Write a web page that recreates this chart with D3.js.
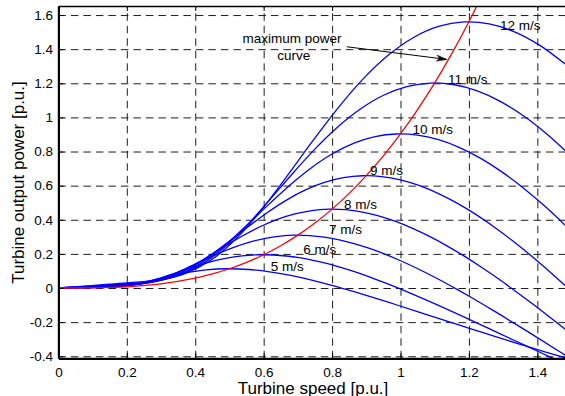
<!DOCTYPE html>
<html><head><meta charset="utf-8">
<script src="https://cdn.jsdelivr.net/npm/d3@7"></script>
<style>
html,body{margin:0;padding:0;background:#fff;overflow:hidden}
svg{display:block}
text{font-family:"Liberation Sans",Arial,Helvetica,sans-serif;fill:#000}
</style></head><body>
<svg id="chart" width="565" height="396"></svg>
<script>
// ---------- DATA (turbine speed [p.u.], turbine output power [p.u.]) ----------
const windSpeeds = [5, 6, 7, 8, 9, 10, 11, 12];
const speedLabels = ["5 m/s","6 m/s","7 m/s","8 m/s","9 m/s","10 m/s","11 m/s","12 m/s"];

const curve5 = [[0,0],[0.0617,0.0016],[0.1235,0.0035],[0.1852,0.0117],[0.2160,0.0208],[0.2469,0.0330],[0.2778,0.0471],[0.3086,0.0618],[0.3395,0.0759],[0.3704,0.0883],[0.4321,0.1061],[0.4938,0.1128],[0.5556,0.1086],[0.6173,0.0950],[0.6790,0.0735],[0.7407,0.0460],[0.8025,0.0139],[0.8642,-0.0215],[0.9259,-0.0591],[0.9877,-0.0981],[1.0494,-0.1379],[1.1111,-0.1780],[1.1728,-0.2180],[1.2346,-0.2576],[1.2963,-0.2966],[1.3580,-0.3349],[1.4198,-0.3724],[1.4815,-0.4089]];
const curve6 = [[0,0],[0.0741,0.0028],[0.1481,0.0061],[0.2222,0.0201],[0.2593,0.0359],[0.2963,0.0570],[0.3333,0.0814],[0.3704,0.1068],[0.4074,0.1311],[0.4444,0.1527],[0.4815,0.1703],[0.5185,0.1834],[0.5556,0.1916],[0.5926,0.1950],[0.6296,0.1936],[0.6667,0.1877],[0.7037,0.1778],[0.7407,0.1641],[0.7778,0.1470],[0.8148,0.1270],[0.8519,0.1043],[0.8889,0.0794],[0.9259,0.0525],[0.9630,0.0240],[1.0370,-0.0371],[1.1111,-0.1021],[1.1852,-0.1695],[1.2593,-0.2383],[1.3333,-0.3075],[1.4074,-0.3767],[1.4815,-0.4451]];
const curve7 = [[0,0],[0.0864,0.0044],[0.1728,0.0097],[0.2593,0.0320],[0.3025,0.0569],[0.3457,0.0904],[0.3889,0.1293],[0.4321,0.1696],[0.4753,0.2082],[0.5185,0.2424],[0.5617,0.2704],[0.6049,0.2912],[0.6481,0.3043],[0.6914,0.3096],[0.7346,0.3074],[0.7778,0.2981],[0.8210,0.2823],[0.8642,0.2605],[0.9074,0.2334],[0.9506,0.2016],[0.9938,0.1657],[1.0370,0.1261],[1.0802,0.0834],[1.1235,0.0381],[1.1667,-0.0095],[1.2099,-0.0589],[1.2531,-0.1099],[1.2963,-0.1621],[1.3827,-0.2691],[1.4691,-0.3783],[1.5556,-0.4883]];
const curve8 = [[0,0],[0.0988,0.0066],[0.1975,0.0145],[0.2469,0.0251],[0.2963,0.0477],[0.3457,0.0850],[0.3951,0.1350],[0.4444,0.1929],[0.4938,0.2532],[0.5432,0.3108],[0.5926,0.3619],[0.6420,0.4037],[0.6914,0.4347],[0.7407,0.4542],[0.7901,0.4621],[0.8395,0.4589],[0.8889,0.4450],[0.9383,0.4214],[0.9877,0.3889],[1.0370,0.3485],[1.0864,0.3010],[1.1358,0.2473],[1.1852,0.1882],[1.2346,0.1245],[1.2840,0.0569],[1.3333,-0.0142],[1.3827,-0.0879],[1.4321,-0.1640],[1.4815,-0.2419],[1.5802,-0.4017]];
const curve9 = [[0,0],[0.1111,0.0093],[0.2222,0.0206],[0.2778,0.0357],[0.3333,0.0679],[0.3889,0.1210],[0.4444,0.1922],[0.5000,0.2747],[0.5556,0.3605],[0.6111,0.4426],[0.6667,0.5152],[0.7222,0.5748],[0.7778,0.6189],[0.8333,0.6467],[0.8889,0.6580],[0.9444,0.6533],[1.0000,0.6336],[1.0556,0.6000],[1.1111,0.5537],[1.1667,0.4962],[1.2222,0.4285],[1.2778,0.3521],[1.3333,0.2680],[1.3889,0.1773],[1.4444,0.0809],[1.5000,-0.0202]];
const curve10 = [[0,0],[0.1235,0.0128],[0.2469,0.0283],[0.3086,0.0490],[0.3704,0.0932],[0.4321,0.1660],[0.4938,0.2637],[0.5556,0.3768],[0.6173,0.4946],[0.6790,0.6071],[0.7407,0.7067],[0.8025,0.7884],[0.8642,0.8490],[0.9259,0.8871],[0.9877,0.9026],[1.0494,0.8962],[1.1111,0.8691],[1.1728,0.8230],[1.2346,0.7596],[1.2963,0.6806],[1.3580,0.5878],[1.4198,0.4830],[1.4815,0.3676],[1.5432,0.2432]];
const curve11 = [[0,0],[0.1358,0.0170],[0.2716,0.0377],[0.3395,0.0653],[0.4074,0.1240],[0.4753,0.2210],[0.5432,0.3509],[0.6111,0.5016],[0.6790,0.6583],[0.7469,0.8080],[0.8148,0.9407],[0.8827,1.0494],[0.9506,1.1300],[1.0185,1.1807],[1.0864,1.2014],[1.1543,1.1928],[1.2222,1.1568],[1.2901,1.0955],[1.3580,1.0110],[1.4259,0.9059],[1.4938,0.7824]];
const curve12 = [[0,0],[0.1481,0.0221],[0.2963,0.0489],[0.3704,0.0847],[0.4444,0.1610],[0.5185,0.2869],[0.5926,0.4556],[0.6667,0.6512],[0.7407,0.8546],[0.8148,1.0490],[0.8889,1.2213],[0.9630,1.3624],[1.0370,1.4671],[1.1111,1.5329],[1.1852,1.5597],[1.2593,1.5486],[1.3333,1.5019],[1.4074,1.4222],[1.4815,1.3125]];

// maximum power curve (red)
const maxPowerSpeed = [0,0.1,0.2,0.3,0.4,0.45,0.5,0.55,0.6,0.65,0.7,0.75,0.8,0.85,0.9,0.95,1.0,1.05,1.1,1.15,1.2,1.25];
const maxPowerValue = [0,0.0009,0.0072,0.0244,0.0578,0.0823,0.1129,0.1503,0.1951,0.2480,0.3098,0.3810,0.4624,0.5547,0.6584,0.7744,0.9032,1.0455,1.2021,1.3736,1.5607,1.7640];

// ticks
const xTicks = [0,0.2,0.4,0.6,0.8,1,1.2,1.4];
const xTickLabels = ["0","0.2","0.4","0.6","0.8","1","1.2","1.4"];
const yTicks = [-0.4,-0.2,0,0.2,0.4,0.6,0.8,1,1.2,1.4,1.6];
const yTickLabels = ["-0.4","-0.2","0","0.2","0.4","0.6","0.8","1","1.2","1.4","1.6"];

const curves = [curve5, curve6, curve7, curve8, curve9, curve10, curve11, curve12];

// ---------- LAYOUT ----------
const svg = d3.select("#chart");
const x = d3.scaleLinear().domain([0, 1.5]).range([58.4, 571.55]);
const y = d3.scaleLinear().domain([-0.412, 1.653]).range([358.3, 6]);
const x0 = x(0), x1 = x(1.5), yTop = y.range()[1], yBot = y.range()[0];
const plotW = x1 - x0, plotH = yBot - yTop;

// label anchors in data coordinates (layout only)
const labelAnchor = {
  5:[0.621,0.0996], 6:[0.716,0.199], 7:[0.791,0.316], 8:[0.835,0.466],
  9:[0.911,0.665], 10:[1.035,0.905], 11:[1.139,1.198], 12:[1.291,1.515]
};

svg.append("defs").append("clipPath").attr("id","plotclip")
  .append("rect").attr("x", x0).attr("y", yTop).attr("width", plotW).attr("height", plotH);

// grid
const gridColor = "#1e1e1e";
const gx = svg.append("g").attr("transform", `translate(0,${yBot})`)
  .call(d3.axisBottom(x).tickValues(xTicks.slice(1)).tickSize(-plotH).tickFormat(""));
gx.select(".domain").remove();
gx.selectAll("line").attr("stroke", gridColor).attr("stroke-width", 1).attr("stroke-dasharray", "7.5,5");

const gy = svg.append("g").attr("transform", `translate(${x0},0)`)
  .call(d3.axisLeft(y).tickValues(yTicks).tickSize(-plotW).tickFormat(""));
gy.select(".domain").remove();
gy.selectAll("line").attr("stroke", gridColor).attr("stroke-width", 1).attr("stroke-dasharray", "7.5,5");

// curves
const line = d3.line().x(d => x(d[0])).y(d => y(d[1])).curve(d3.curveCatmullRom.alpha(0.5));
const cg = svg.append("g").attr("clip-path", "url(#plotclip)");
curves.forEach(c => {
  cg.append("path").datum(c).attr("d", line)
    .attr("fill", "none").attr("stroke", "#0000ff").attr("stroke-width", 1.3);
});
const maxData = maxPowerSpeed.map((s, i) => [s, maxPowerValue[i]]);
cg.append("path").datum(maxData).attr("d", line)
  .attr("fill", "none").attr("stroke", "#ff0000").attr("stroke-width", 1.3);

// axes
const fontTick = "13.5px";
const ax = svg.append("g").attr("transform", `translate(0,${yBot})`)
  .call(d3.axisBottom(x).tickValues(xTicks).tickSize(-5).tickSizeOuter(0).tickPadding(8.8)
    .tickFormat((d, i) => xTickLabels[i]));
ax.select(".domain").attr("stroke", "#000").attr("stroke-width", 2.2);
ax.selectAll("line").attr("stroke", "#000");
ax.selectAll("text").attr("font-size", fontTick).attr("font-family", null);

const ay = svg.append("g").attr("transform", `translate(${x0},0)`)
  .call(d3.axisLeft(y).tickValues(yTicks).tickSize(-5).tickSizeOuter(0).tickPadding(5.4)
    .tickFormat((d, i) => yTickLabels[i]));
ay.select(".domain").attr("stroke", "#000").attr("stroke-width", 2.2);
ay.selectAll("line").attr("stroke", "#000");
ay.selectAll("text").attr("font-size", fontTick).attr("font-family", null);

const at = svg.append("g").attr("transform", `translate(0,${yTop})`)
  .call(d3.axisTop(x).tickValues(xTicks).tickSize(-5).tickSizeOuter(0).tickFormat(""));
at.select(".domain").attr("stroke", "#000").attr("stroke-width", 1.4);
at.selectAll("line").attr("stroke", "#000");

// wind speed labels
windSpeeds.forEach((v, i) => {
  const p = labelAnchor[v];
  svg.append("text").attr("x", x(p[0])).attr("y", y(p[1]))
    .attr("font-size", fontTick).text(speedLabels[i]);
});

// annotation
const annX = 0.683;
svg.append("text").attr("x", x(annX)).attr("y", y(1.436)).attr("text-anchor", "middle")
  .attr("font-size", fontTick).text("maximum power");
svg.append("text").attr("x", x(annX + 0.005)).attr("y", y(1.336)).attr("text-anchor", "middle")
  .attr("font-size", fontTick).text("curve");
const a0 = [x(0.843), y(1.414)], a1 = [x(1.135), y(1.340)];
svg.append("line").attr("x1", a0[0]).attr("y1", a0[1]).attr("x2", a1[0]).attr("y2", a1[1])
  .attr("stroke", "#000").attr("stroke-width", 1);
{
  const dx = a1[0] - a0[0], dy = a1[1] - a0[1], L = Math.hypot(dx, dy);
  const ux = dx / L, uy = dy / L, px = -uy, py = ux;
  const hl = 10, hw = 3;
  const bx = a1[0] - ux * hl, by = a1[1] - uy * hl;
  svg.append("path")
    .attr("d", `M${a1[0]},${a1[1]}L${bx + px*hw},${by + py*hw}L${a1[0]-ux*7},${a1[1]-uy*7}L${bx - px*hw},${by - py*hw}Z`)
    .attr("fill", "#000").attr("stroke", "#000").attr("stroke-width", 0.6);
}

// axis titles
svg.append("text").attr("x", 313).attr("y", 393.5).attr("text-anchor", "middle")
  .attr("font-size", "17px").text("Turbine speed [p.u.]");
svg.append("text").attr("transform", "translate(24,182.5) rotate(-90)").attr("text-anchor", "middle")
  .attr("font-size", "17px").text("Turbine output power [p.u.]");
</script>
</body></html>
